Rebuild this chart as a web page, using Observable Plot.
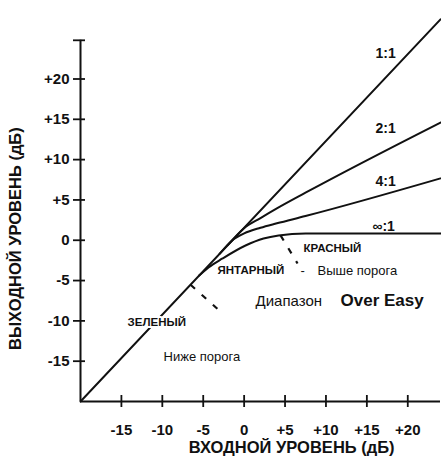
<!DOCTYPE html>
<html><head><meta charset="utf-8">
<script src="https://cdn.jsdelivr.net/npm/d3@7"></script>
<script src="https://cdn.jsdelivr.net/npm/@observablehq/plot@0.6"></script>
<style>body{margin:0;background:#fff} #chart svg{display:block}</style>
</head><body><div id="chart"></div>
<script>
// ---- data (dB) ----
const ratioLabels = ["1:1", "2:1", "4:1", "∞:1"];
const ratioLabelX = [17.3, 17.3, 17.3, 17.05];
const ratioLabelY = [23.1, 13.9, 7.3, 1.7];

const in11 = [-20, 24];
const out11 = [-20, 27.4];
const in21 = [-2, 0, 2, 4, 7.5, 24];
const out21 = [-0.6, 1.5, 2.75, 3.95, 5.9, 14.6];
const in41 = [-3, -1.5, 0, 2, 4, 7.5, 24];
const out41 = [-1.69, -0.05, 0.85, 1.55, 2.1, 3.0, 7.67];
const inInf = [-5.5, -4.35, -2.64, 0.17, 2.37, 4.21, 7.51, 24];
const outInf = [-4.38, -3.37, -2.26, -0.65, 0.22, 0.6, 0.84, 0.84];

const zoneLabels = ["ЗЕЛЕНЫЙ", "ЯНТАРНЫЙ", "КРАСНЫЙ"];
const zoneX = [-14.25, -3.25, 7.26];
const zoneY = [-10.2, -3.75, -1.02];

const regionLabels = ["Ниже порога", "Выше порога", "-"];
const regionX = [-9.85, 8.97, 6.9];
const regionY = [-14.5, -3.75, -3.85];

const rangeLabel = ["Диапазон"];
const rangeX = [1.39];
const rangeY = [-7.5];

const brandLabel = ["Over Easy"];
const brandX = [11.78];
const brandY = [-7.5];

const pointerX1 = [-6.55, 4.45];
const pointerY1 = [-5.52, 0.6];
const pointerX2 = [-2.64, 6.53];
const pointerY2 = [-9.08, -2.88];

const xTicks = [-15, -10, -5, 0, 5, 10, 15, 20];
const xTickLabels = ["-15", "-10", "-5", "0", "+5", "+10", "+15", "+20"];
const yTicks = [-15, -10, -5, 0, 5, 10, 15, 20];
const yTickLabels = ["-15", "-10", "-5", "0", "+5", "+10", "+15", "+20"];
const xAxisEnd = 24;
const yAxisEnd = 24.8;
const axisOrigin = -20;

const xTitle = "ВХОДНОЙ УРОВЕНЬ (дБ)";
const yTitle = "ВЫХОДНОЙ УРОВЕНЬ (дБ)";

// ---- build tables ----
const series = [
  {name: "1:1", xs: in11, ys: out11},
  {name: "2:1", xs: in21, ys: out21},
  {name: "4:1", xs: in41, ys: out41},
  {name: "∞:1", xs: inInf, ys: outInf}
];
const curvePts = series.flatMap(s => s.xs.map((x, i) => ({name: s.name, x, y: s.ys[i]})));
const toRows = (labels, xs, ys) => labels.map((t, i) => ({t, x: xs[i], y: ys[i]}));
const ratioTxt = toRows(ratioLabels, ratioLabelX, ratioLabelY);
const zoneTxt = toRows(zoneLabels, zoneX, zoneY);
const regionTxt = toRows(regionLabels, regionX, regionY);
const rangeTxt = toRows(rangeLabel, rangeX, rangeY);
const brandTxt = toRows(brandLabel, brandX, brandY);
const pointers = pointerX1.map((x1, i) => ({x1, y1: pointerY1[i], x2: pointerX2[i], y2: pointerY2[i]}));
const yTickAll = [...yTicks, yAxisEnd];

const ink = "#111";
const chart = Plot.plot({
  width: 441,
  height: 459,
  marginLeft: 80,
  marginRight: 1,
  marginTop: 14,
  marginBottom: 58,
  style: {fontFamily: "'Liberation Sans', Arial, sans-serif", color: ink, background: "#fff"},
  x: {domain: [-20, 24]},
  y: {domain: [-20, 28]},
  marks: [
    // axes lines
    Plot.ruleY([axisOrigin], {x1: axisOrigin, x2: xAxisEnd, stroke: ink, strokeWidth: 2}),
    Plot.ruleX([axisOrigin], {y1: axisOrigin, y2: yAxisEnd, stroke: ink, strokeWidth: 2}),
    // crossing ticks
    Plot.ruleX(xTicks, {x: d => d, y1: axisOrigin, y2: axisOrigin, insetTop: -6, insetBottom: -6, stroke: ink, strokeWidth: 1.8}),
    Plot.ruleY(yTickAll, {y: d => d, x1: axisOrigin, x2: axisOrigin, insetLeft: -7, insetRight: -5, stroke: ink, strokeWidth: 1.8}),
    Plot.axisX(xTicks, {tickFormat: (d, i) => xTickLabels[i], tickSize: 0, tickPadding: 23, fontSize: 15, fontWeight: "bold", label: null}),
    Plot.axisY(yTicks, {tickFormat: (d, i) => yTickLabels[i], tickSize: 0, tickPadding: 11, fontSize: 15, fontWeight: "bold", label: null}),
    // axis titles
    Plot.text([xTitle], {x: () => 5.8, frameAnchor: "bottom", textAnchor: "middle", dy: 51, text: d => d, fontSize: 16.5, fontWeight: "bold", fill: ink}),
    Plot.text([yTitle], {y: () => 0.2, frameAnchor: "left", textAnchor: "middle", dx: -65, rotate: -90, text: d => d, fontSize: 16.5, fontWeight: "bold", fill: ink}),
    // curves
    Plot.line(curvePts, {x: "x", y: "y", z: "name", curve: "monotone-x", stroke: ink, strokeWidth: 2}),
    // pointers
    Plot.link(pointers, {x1: "x1", y1: "y1", x2: "x2", y2: "y2", stroke: ink, strokeWidth: 2.2, strokeDasharray: "6,9"}),
    // labels
    Plot.text(ratioTxt, {x: "x", y: "y", text: "t", fontSize: 14, fontWeight: "bold", fill: ink}),
    Plot.text(zoneTxt, {x: "x", y: "y", text: "t", textAnchor: "start", fontSize: 11.5, fontWeight: "bold", fill: ink, stroke: "#fff", strokeWidth: 4}),
    Plot.text(regionTxt, {x: "x", y: "y", text: "t", textAnchor: "start", fontSize: 13, fill: ink}),
    Plot.text(rangeTxt, {x: "x", y: "y", text: "t", textAnchor: "start", fontSize: 15, fill: ink}),
    Plot.text(brandTxt, {x: "x", y: "y", text: "t", textAnchor: "start", fontSize: 17, fontWeight: "bold", fill: ink})
  ]
});
document.getElementById("chart").appendChild(chart);
</script>
</body></html>
